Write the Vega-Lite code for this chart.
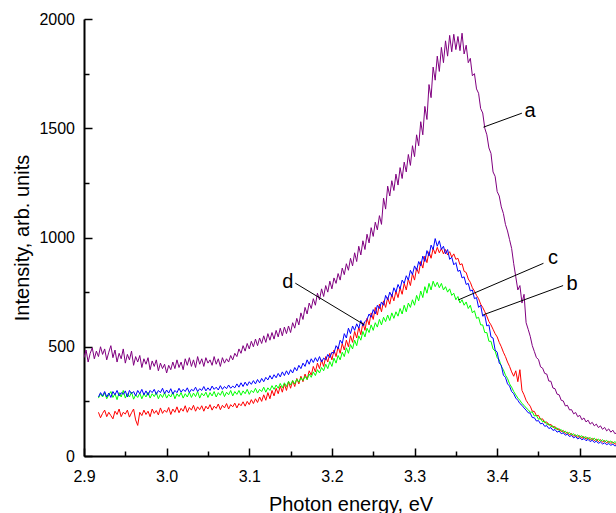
{
  "$schema": "https://vega.github.io/schema/vega-lite/v6.json",
  "width": 533,
  "height": 437,
  "autosize": {"type": "none"},
  "padding": {"left": 84, "top": 19, "right": 0, "bottom": 57},
  "config": {
    "view": {"stroke": null},
    "font": "Liberation Sans",
    "axis": {
      "grid": false,
      "domainColor": "black",
      "domainWidth": 2,
      "tickColor": "black",
      "tickWidth": 1.5,
      "labelColor": "black",
      "labelFont": "Liberation Sans",
      "labelFontSize": 16,
      "titleFont": "Liberation Sans",
      "titleFontSize": 20,
      "titleFontWeight": "normal",
      "titleColor": "black"
    }
  },
  "layer": [
    {
      "data": {
        "values": [
          {"x": 2.9000, "a": 450},
          {"x": 2.9025, "a": 485},
          {"x": 2.9050, "a": 430},
          {"x": 2.9075, "a": 470},
          {"x": 2.9100, "a": 495},
          {"x": 2.9125, "a": 445},
          {"x": 2.9150, "a": 480},
          {"x": 2.9175, "a": 455, "b": 200, "c": 265, "d": 270},
          {"x": 2.9200, "a": 500, "b": 175, "c": 285, "d": 290},
          {"x": 2.9225, "a": 465, "b": 195, "c": 270, "d": 275},
          {"x": 2.9250, "a": 490, "b": 210, "c": 290, "d": 295},
          {"x": 2.9275, "a": 440, "b": 180, "c": 262, "d": 270},
          {"x": 2.9300, "a": 475, "b": 200, "c": 280, "d": 288},
          {"x": 2.9325, "a": 505, "b": 185, "c": 295, "d": 268},
          {"x": 2.9350, "a": 450, "b": 170, "c": 268, "d": 295},
          {"x": 2.9375, "a": 485, "b": 205, "c": 285, "d": 280},
          {"x": 2.9400, "a": 430, "b": 190, "c": 258, "d": 300},
          {"x": 2.9425, "a": 470, "b": 215, "c": 290, "d": 275},
          {"x": 2.9450, "a": 445, "b": 180, "c": 270, "d": 290},
          {"x": 2.9475, "a": 490, "b": 200, "c": 300, "d": 282},
          {"x": 2.9500, "a": 425, "b": 192, "c": 265, "d": 298},
          {"x": 2.9525, "a": 465, "b": 210, "c": 285, "d": 270},
          {"x": 2.9550, "a": 440, "b": 178, "c": 270, "d": 300},
          {"x": 2.9575, "a": 480, "b": 198, "c": 292, "d": 285},
          {"x": 2.9600, "a": 415, "b": 215, "c": 260, "d": 295},
          {"x": 2.9625, "a": 455, "b": 165, "c": 280, "d": 275},
          {"x": 2.9650, "a": 430, "b": 140, "c": 268, "d": 300},
          {"x": 2.9675, "a": 460, "b": 200, "c": 288, "d": 285},
          {"x": 2.9700, "a": 405, "b": 185, "c": 262, "d": 305},
          {"x": 2.9725, "a": 445, "b": 210, "c": 285, "d": 280},
          {"x": 2.9750, "a": 420, "b": 190, "c": 270, "d": 298},
          {"x": 2.9775, "a": 450, "b": 205, "c": 292, "d": 278},
          {"x": 2.9800, "a": 395, "b": 180, "c": 265, "d": 300},
          {"x": 2.9825, "a": 435, "b": 215, "c": 285, "d": 290},
          {"x": 2.9850, "a": 410, "b": 195, "c": 272, "d": 305},
          {"x": 2.9875, "a": 440, "b": 208, "c": 290, "d": 282},
          {"x": 2.9900, "a": 390, "b": 188, "c": 262, "d": 300},
          {"x": 2.9925, "a": 425, "b": 220, "c": 283, "d": 290},
          {"x": 2.9950, "a": 400, "b": 195, "c": 268, "d": 310},
          {"x": 2.9975, "a": 420, "b": 210, "c": 290, "d": 285},
          {"x": 3.0000, "a": 380, "b": 200, "c": 265, "d": 302},
          {"x": 3.0025, "a": 415, "b": 222, "c": 282, "d": 288},
          {"x": 3.0050, "a": 395, "b": 190, "c": 270, "d": 308},
          {"x": 3.0075, "a": 430, "b": 215, "c": 292, "d": 283},
          {"x": 3.0100, "a": 400, "b": 200, "c": 262, "d": 300},
          {"x": 3.0125, "a": 440, "b": 225, "c": 285, "d": 290},
          {"x": 3.0150, "a": 405, "b": 198, "c": 272, "d": 310},
          {"x": 3.0175, "a": 430, "b": 218, "c": 290, "d": 292},
          {"x": 3.0200, "a": 395, "b": 205, "c": 265, "d": 305},
          {"x": 3.0225, "a": 445, "b": 230, "c": 285, "d": 295},
          {"x": 3.0250, "a": 415, "b": 200, "c": 270, "d": 312},
          {"x": 3.0275, "a": 450, "b": 222, "c": 292, "d": 290},
          {"x": 3.0300, "a": 410, "b": 210, "c": 268, "d": 305},
          {"x": 3.0325, "a": 440, "b": 232, "c": 288, "d": 298},
          {"x": 3.0350, "a": 405, "b": 205, "c": 272, "d": 315},
          {"x": 3.0375, "a": 455, "b": 225, "c": 295, "d": 295},
          {"x": 3.0400, "a": 420, "b": 212, "c": 265, "d": 308},
          {"x": 3.0425, "a": 445, "b": 230, "c": 287, "d": 300},
          {"x": 3.0450, "a": 410, "b": 205, "c": 275, "d": 318},
          {"x": 3.0475, "a": 450, "b": 228, "c": 292, "d": 298},
          {"x": 3.0500, "a": 425, "b": 215, "c": 268, "d": 312},
          {"x": 3.0525, "a": 440, "b": 235, "c": 290, "d": 300},
          {"x": 3.0550, "a": 415, "b": 210, "c": 275, "d": 320},
          {"x": 3.0575, "a": 455, "b": 228, "c": 295, "d": 305},
          {"x": 3.0600, "a": 420, "b": 218, "c": 270, "d": 315},
          {"x": 3.0625, "a": 445, "b": 238, "c": 290, "d": 302},
          {"x": 3.0650, "a": 410, "b": 212, "c": 278, "d": 322},
          {"x": 3.0675, "a": 450, "b": 232, "c": 298, "d": 305},
          {"x": 3.0700, "a": 425, "b": 220, "c": 272, "d": 318},
          {"x": 3.0725, "a": 445, "b": 240, "c": 292, "d": 308},
          {"x": 3.0750, "a": 430, "b": 215, "c": 280, "d": 325},
          {"x": 3.0775, "a": 460, "b": 235, "c": 300, "d": 310},
          {"x": 3.0800, "a": 440, "b": 225, "c": 275, "d": 320},
          {"x": 3.0825, "a": 470, "b": 242, "c": 295, "d": 312},
          {"x": 3.0850, "a": 455, "b": 220, "c": 282, "d": 330},
          {"x": 3.0875, "a": 490, "b": 240, "c": 300, "d": 315},
          {"x": 3.0900, "a": 470, "b": 230, "c": 278, "d": 335},
          {"x": 3.0925, "a": 505, "b": 248, "c": 298, "d": 318},
          {"x": 3.0950, "a": 480, "b": 228, "c": 285, "d": 338},
          {"x": 3.0975, "a": 515, "b": 250, "c": 305, "d": 322},
          {"x": 3.1000, "a": 490, "b": 235, "c": 282, "d": 340},
          {"x": 3.1025, "a": 525, "b": 258, "c": 300, "d": 328},
          {"x": 3.1050, "a": 500, "b": 240, "c": 290, "d": 345},
          {"x": 3.1075, "a": 535, "b": 262, "c": 310, "d": 330},
          {"x": 3.1100, "a": 505, "b": 245, "c": 288, "d": 350},
          {"x": 3.1125, "a": 540, "b": 270, "c": 305, "d": 335},
          {"x": 3.1150, "a": 515, "b": 250, "c": 295, "d": 355},
          {"x": 3.1175, "a": 550, "b": 280, "c": 315, "d": 340},
          {"x": 3.1200, "a": 520, "b": 255, "c": 292, "d": 360},
          {"x": 3.1225, "a": 560, "b": 290, "c": 312, "d": 348},
          {"x": 3.1250, "a": 530, "b": 262, "c": 300, "d": 368},
          {"x": 3.1275, "a": 565, "b": 300, "c": 322, "d": 352},
          {"x": 3.1300, "a": 535, "b": 275, "c": 305, "d": 372},
          {"x": 3.1325, "a": 575, "b": 310, "c": 325, "d": 358},
          {"x": 3.1350, "a": 545, "b": 285, "c": 310, "d": 378},
          {"x": 3.1375, "a": 585, "b": 320, "c": 332, "d": 362},
          {"x": 3.1400, "a": 550, "b": 292, "c": 312, "d": 385},
          {"x": 3.1425, "a": 590, "b": 330, "c": 335, "d": 368},
          {"x": 3.1450, "a": 560, "b": 300, "c": 318, "d": 390},
          {"x": 3.1475, "a": 595, "b": 340, "c": 342, "d": 372},
          {"x": 3.1500, "a": 565, "b": 310, "c": 325, "d": 395},
          {"x": 3.1525, "a": 610, "b": 345, "c": 345, "d": 380},
          {"x": 3.1550, "a": 585, "b": 318, "c": 330, "d": 405},
          {"x": 3.1575, "a": 630, "b": 355, "c": 352, "d": 390},
          {"x": 3.1600, "a": 600, "b": 330, "c": 338, "d": 415},
          {"x": 3.1625, "a": 655, "b": 365, "c": 358, "d": 400},
          {"x": 3.1650, "a": 625, "b": 340, "c": 345, "d": 425},
          {"x": 3.1675, "a": 680, "b": 375, "c": 365, "d": 410},
          {"x": 3.1700, "a": 650, "b": 350, "c": 350, "d": 440},
          {"x": 3.1725, "a": 700, "b": 390, "c": 375, "d": 420},
          {"x": 3.1750, "a": 675, "b": 370, "c": 360, "d": 445},
          {"x": 3.1775, "a": 720, "b": 410, "c": 385, "d": 428},
          {"x": 3.1800, "a": 690, "b": 385, "c": 368, "d": 450},
          {"x": 3.1825, "a": 745, "b": 425, "c": 395, "d": 432},
          {"x": 3.1850, "a": 715, "b": 400, "c": 380, "d": 455},
          {"x": 3.1875, "a": 765, "b": 440, "c": 405, "d": 430},
          {"x": 3.1900, "a": 730, "b": 410, "c": 390, "d": 448},
          {"x": 3.1925, "a": 780, "b": 455, "c": 420, "d": 440},
          {"x": 3.1950, "a": 750, "b": 430, "c": 400, "d": 465},
          {"x": 3.1975, "a": 800, "b": 470, "c": 432, "d": 450},
          {"x": 3.2000, "a": 765, "b": 440, "c": 410, "d": 475},
          {"x": 3.2025, "a": 815, "b": 485, "c": 448, "d": 470},
          {"x": 3.2050, "a": 790, "b": 455, "c": 425, "d": 505},
          {"x": 3.2075, "a": 835, "b": 500, "c": 460, "d": 490},
          {"x": 3.2100, "a": 805, "b": 470, "c": 440, "d": 530},
          {"x": 3.2125, "a": 860, "b": 515, "c": 475, "d": 515},
          {"x": 3.2150, "a": 830, "b": 485, "c": 455, "d": 560},
          {"x": 3.2175, "a": 880, "b": 530, "c": 495, "d": 540},
          {"x": 3.2200, "a": 850, "b": 500, "c": 470, "d": 585},
          {"x": 3.2225, "a": 905, "b": 550, "c": 510, "d": 560},
          {"x": 3.2250, "a": 870, "b": 520, "c": 490, "d": 595},
          {"x": 3.2275, "a": 930, "b": 570, "c": 530, "d": 575},
          {"x": 3.2300, "a": 890, "b": 540, "c": 505, "d": 605},
          {"x": 3.2325, "a": 960, "b": 590, "c": 550, "d": 585},
          {"x": 3.2350, "a": 920, "b": 555, "c": 530, "d": 620},
          {"x": 3.2375, "a": 985, "b": 610, "c": 570, "d": 595},
          {"x": 3.2400, "a": 945, "b": 575, "c": 545, "d": 615},
          {"x": 3.2425, "a": 1015, "b": 630, "c": 585, "d": 625},
          {"x": 3.2450, "a": 975, "b": 600, "c": 565, "d": 650},
          {"x": 3.2475, "a": 1045, "b": 655, "c": 600, "d": 635},
          {"x": 3.2500, "a": 1005, "b": 625, "c": 575, "d": 670},
          {"x": 3.2525, "a": 1070, "b": 680, "c": 610, "d": 650},
          {"x": 3.2550, "a": 1035, "b": 645, "c": 590, "d": 690},
          {"x": 3.2575, "a": 1100, "b": 695, "c": 625, "d": 675},
          {"x": 3.2600, "a": 1060, "b": 660, "c": 600, "d": 705},
          {"x": 3.2625, "a": 1180, "b": 710, "c": 635, "d": 690},
          {"x": 3.2650, "a": 1130, "b": 680, "c": 615, "d": 735},
          {"x": 3.2675, "a": 1235, "b": 725, "c": 645, "d": 715},
          {"x": 3.2700, "a": 1190, "b": 695, "c": 620, "d": 750},
          {"x": 3.2725, "a": 1260, "b": 740, "c": 655, "d": 730},
          {"x": 3.2750, "a": 1215, "b": 710, "c": 630, "d": 770},
          {"x": 3.2775, "a": 1290, "b": 755, "c": 660, "d": 750},
          {"x": 3.2800, "a": 1240, "b": 725, "c": 640, "d": 785},
          {"x": 3.2825, "a": 1320, "b": 770, "c": 675, "d": 765},
          {"x": 3.2850, "a": 1270, "b": 740, "c": 650, "d": 805},
          {"x": 3.2875, "a": 1345, "b": 790, "c": 690, "d": 790},
          {"x": 3.2900, "a": 1300, "b": 760, "c": 660, "d": 825},
          {"x": 3.2925, "a": 1380, "b": 810, "c": 700, "d": 805},
          {"x": 3.2950, "a": 1330, "b": 780, "c": 680, "d": 850},
          {"x": 3.2975, "a": 1420, "b": 835, "c": 715, "d": 830},
          {"x": 3.3000, "a": 1370, "b": 805, "c": 690, "d": 870},
          {"x": 3.3025, "a": 1470, "b": 860, "c": 735, "d": 850},
          {"x": 3.3050, "a": 1420, "b": 835, "c": 710, "d": 890},
          {"x": 3.3075, "a": 1530, "b": 890, "c": 755, "d": 870},
          {"x": 3.3100, "a": 1470, "b": 860, "c": 725, "d": 915},
          {"x": 3.3125, "a": 1600, "b": 915, "c": 775, "d": 890},
          {"x": 3.3150, "a": 1540, "b": 885, "c": 745, "d": 940},
          {"x": 3.3175, "a": 1700, "b": 935, "c": 790, "d": 915},
          {"x": 3.3200, "a": 1640, "b": 905, "c": 760, "d": 965},
          {"x": 3.3225, "a": 1780, "b": 950, "c": 800, "d": 945},
          {"x": 3.3250, "a": 1720, "b": 925, "c": 775, "d": 995},
          {"x": 3.3275, "a": 1830, "b": 955, "c": 795, "d": 960},
          {"x": 3.3300, "a": 1760, "b": 930, "c": 770, "d": 985},
          {"x": 3.3325, "a": 1870, "b": 950, "c": 790, "d": 945},
          {"x": 3.3350, "a": 1800, "b": 925, "c": 760, "d": 960},
          {"x": 3.3375, "a": 1900, "b": 945, "c": 775, "d": 925},
          {"x": 3.3400, "a": 1830, "b": 920, "c": 750, "d": 945},
          {"x": 3.3425, "a": 1925, "b": 935, "c": 765, "d": 900},
          {"x": 3.3450, "a": 1850, "b": 910, "c": 735, "d": 910},
          {"x": 3.3475, "a": 1930, "b": 925, "c": 745, "d": 875},
          {"x": 3.3500, "a": 1860, "b": 900, "c": 715, "d": 885},
          {"x": 3.3525, "a": 1920, "b": 905, "c": 730, "d": 845},
          {"x": 3.3550, "a": 1855, "b": 875, "c": 700, "d": 850},
          {"x": 3.3575, "a": 1935, "b": 880, "c": 715, "d": 815},
          {"x": 3.3600, "a": 1840, "b": 845, "c": 690, "d": 820},
          {"x": 3.3625, "a": 1880, "b": 840, "c": 705, "d": 785},
          {"x": 3.3650, "a": 1800, "b": 810, "c": 675, "d": 790},
          {"x": 3.3675, "a": 1820, "b": 795, "c": 690, "d": 755},
          {"x": 3.3700, "a": 1740, "b": 770, "c": 655, "d": 760},
          {"x": 3.3725, "a": 1750, "b": 755, "c": 665, "d": 720},
          {"x": 3.3750, "a": 1680, "b": 735, "c": 630, "d": 725},
          {"x": 3.3775, "a": 1660, "b": 720, "c": 635, "d": 680},
          {"x": 3.3800, "a": 1590, "b": 695, "c": 600, "d": 690},
          {"x": 3.3825, "a": 1570, "b": 680, "c": 600, "d": 640},
          {"x": 3.3850, "a": 1500, "b": 660, "c": 565, "d": 645},
          {"x": 3.3875, "a": 1470, "b": 640, "c": 565, "d": 595},
          {"x": 3.3900, "a": 1410, "b": 615, "c": 525, "d": 600},
          {"x": 3.3925, "a": 1385, "b": 600, "c": 525, "d": 545},
          {"x": 3.3950, "a": 1300, "b": 580, "c": 490, "d": 540},
          {"x": 3.3975, "a": 1280, "b": 560, "c": 480, "d": 485},
          {"x": 3.4000, "a": 1210, "b": 545, "c": 450, "d": 475},
          {"x": 3.4025, "a": 1190, "b": 520, "c": 440, "d": 425},
          {"x": 3.4050, "a": 1140, "b": 500, "c": 410, "d": 415},
          {"x": 3.4075, "a": 1110, "b": 475, "c": 395, "d": 370},
          {"x": 3.4100, "a": 1060, "b": 455, "c": 370, "d": 360},
          {"x": 3.4125, "a": 1030, "b": 430, "c": 355, "d": 330},
          {"x": 3.4150, "a": 990, "b": 410, "c": 330, "d": 320},
          {"x": 3.4175, "a": 950, "b": 385, "c": 315, "d": 295},
          {"x": 3.4200, "a": 880, "b": 365, "c": 295, "d": 285},
          {"x": 3.4225, "a": 820, "b": 390, "c": 280, "d": 265},
          {"x": 3.4250, "a": 760, "b": 340, "c": 265, "d": 255},
          {"x": 3.4275, "a": 780, "b": 395, "c": 255, "d": 240},
          {"x": 3.4300, "a": 700, "b": 300, "c": 240, "d": 232},
          {"x": 3.4325, "a": 740, "b": 280, "c": 232, "d": 220},
          {"x": 3.4350, "a": 610, "b": 255, "c": 220, "d": 210},
          {"x": 3.4375, "a": 580, "b": 240, "c": 212, "d": 198},
          {"x": 3.4400, "a": 548, "b": 228, "c": 200, "d": 196},
          {"x": 3.4425, "a": 505, "b": 205, "c": 202, "d": 176},
          {"x": 3.4450, "a": 478, "b": 204, "c": 183, "d": 175},
          {"x": 3.4475, "a": 450, "b": 184, "c": 186, "d": 160},
          {"x": 3.4500, "a": 442, "b": 186, "c": 168, "d": 162},
          {"x": 3.4525, "a": 408, "b": 168, "c": 172, "d": 147},
          {"x": 3.4550, "a": 402, "b": 170, "c": 156, "d": 150},
          {"x": 3.4575, "a": 378, "b": 152, "c": 160, "d": 136},
          {"x": 3.4600, "a": 375, "b": 156, "c": 144, "d": 139},
          {"x": 3.4625, "a": 343, "b": 141, "c": 148, "d": 126},
          {"x": 3.4650, "a": 342, "b": 145, "c": 134, "d": 130},
          {"x": 3.4675, "a": 311, "b": 130, "c": 138, "d": 117},
          {"x": 3.4700, "a": 308, "b": 135, "c": 124, "d": 121},
          {"x": 3.4725, "a": 283, "b": 120, "c": 129, "d": 109},
          {"x": 3.4750, "a": 280, "b": 125, "c": 116, "d": 114},
          {"x": 3.4775, "a": 255, "b": 111, "c": 121, "d": 102},
          {"x": 3.4800, "a": 252, "b": 117, "c": 108, "d": 106},
          {"x": 3.4825, "a": 229, "b": 103, "c": 114, "d": 95},
          {"x": 3.4850, "a": 232, "b": 109, "c": 102, "d": 100},
          {"x": 3.4875, "a": 211, "b": 96, "c": 108, "d": 89},
          {"x": 3.4900, "a": 212, "b": 103, "c": 96, "d": 94},
          {"x": 3.4925, "a": 193, "b": 90, "c": 102, "d": 83},
          {"x": 3.4950, "a": 199, "b": 97, "c": 90, "d": 89},
          {"x": 3.4975, "a": 180, "b": 85, "c": 97, "d": 78},
          {"x": 3.5000, "a": 186, "b": 93, "c": 86, "d": 84},
          {"x": 3.5025, "a": 166, "b": 81, "c": 93, "d": 74},
          {"x": 3.5050, "a": 174, "b": 89, "c": 82, "d": 80},
          {"x": 3.5075, "a": 156, "b": 77, "c": 89, "d": 70},
          {"x": 3.5100, "a": 164, "b": 85, "c": 78, "d": 76},
          {"x": 3.5125, "a": 146, "b": 73, "c": 85, "d": 66},
          {"x": 3.5150, "a": 154, "b": 81, "c": 74, "d": 72},
          {"x": 3.5175, "a": 138, "b": 70, "c": 82, "d": 62},
          {"x": 3.5200, "a": 146, "b": 78, "c": 70, "d": 68},
          {"x": 3.5225, "a": 130, "b": 66, "c": 78, "d": 58},
          {"x": 3.5250, "a": 138, "b": 75, "c": 67, "d": 64},
          {"x": 3.5275, "a": 122, "b": 63, "c": 75, "d": 55},
          {"x": 3.5300, "a": 131, "b": 71, "c": 64, "d": 60},
          {"x": 3.5325, "a": 115, "b": 60, "c": 72, "d": 52},
          {"x": 3.5350, "a": 124, "b": 68, "c": 61, "d": 57},
          {"x": 3.5375, "a": 109, "b": 57, "c": 69, "d": 49},
          {"x": 3.5400, "a": 118, "b": 65, "c": 58, "d": 54},
          {"x": 3.5425, "a": 102, "b": 54, "c": 66, "d": 46},
          {"x": 3.5450, "a": 108, "b": 58, "c": 57, "d": 50}
        ]
      },
      "transform": [
        {"fold": ["a", "b", "c", "d"], "as": ["s", "v"]},
        {"filter": "isValid(datum.v)"}
      ],
      "mark": {"type": "line", "strokeWidth": 1, "clip": true},
      "encoding": {
        "x": {
          "field": "x",
          "type": "quantitative",
          "scale": {"domain": [2.9, 3.545], "nice": false, "zero": false},
          "axis": {
            "title": "Photon energy, eV",
            "values": [2.9, 2.95, 3.0, 3.05, 3.1, 3.15, 3.2, 3.25, 3.3, 3.35, 3.4, 3.45, 3.5],
            "labelExpr": "abs(datum.value*10 - round(datum.value*10)) < 0.01 ? format(datum.value, '.1f') : ''",
            "tickSize": {"condition": {"test": "abs(datum.value*10 - round(datum.value*10)) > 0.01", "value": -5}, "value": -8},
            "labelPadding": 20,
            "labelFlush": false,
            "labelOverlap": false,
            "titleBaseline": "alphabetic",
            "titleY": 54
          }
        },
        "y": {
          "field": "v",
          "type": "quantitative",
          "scale": {"domain": [0, 2000], "nice": false},
          "axis": {
            "title": "Intensity, arb. units",
            "values": [0, 250, 500, 750, 1000, 1250, 1500, 1750, 2000],
            "labelExpr": "datum.value % 500 == 0 ? format(datum.value, 'd') : ''",
            "tickSize": {"condition": {"test": "datum.value % 500 != 0", "value": -5}, "value": -8},
            "labelPadding": 17.5,
            "labelFlush": false,
            "labelOverlap": false,
            "titleBaseline": "alphabetic",
            "titleX": -56
          }
        },
        "color": {
          "field": "s",
          "type": "nominal",
          "scale": {"domain": ["a", "b", "c", "d"], "range": ["#800080", "#ff0000", "#00ff00", "#0000ff"]},
          "legend": null
        }
      }
    },
    {
      "data": {
        "values": [
          {"x": 3.3834, "y": 1505, "x2": 3.4299, "y2": 1569},
          {"x": 3.3528, "y": 714, "x2": 3.456, "y2": 882},
          {"x": 3.3831, "y": 646, "x2": 3.4798, "y2": 780},
          {"x": 3.1557, "y": 791, "x2": 3.2395, "y2": 600}
        ]
      },
      "mark": {"type": "rule", "color": "black", "strokeWidth": 1},
      "encoding": {
        "x": {"field": "x", "type": "quantitative", "scale": {"domain": [2.9, 3.545], "nice": false, "zero": false}},
        "y": {"field": "y", "type": "quantitative", "scale": {"domain": [0, 2000], "nice": false}},
        "x2": {"field": "x2"},
        "y2": {"field": "y2"}
      }
    },
    {
      "data": {
        "values": [
          {"x": 3.4399, "y": 1553, "t": "a"},
          {"x": 3.4677, "y": 877, "t": "c"},
          {"x": 3.4907, "y": 762, "t": "b"},
          {"x": 3.1467, "y": 769, "t": "d"}
        ]
      },
      "mark": {"type": "text", "fontSize": 20, "font": "Liberation Sans", "align": "center", "baseline": "alphabetic", "color": "black"},
      "encoding": {
        "x": {"field": "x", "type": "quantitative", "scale": {"domain": [2.9, 3.545], "nice": false, "zero": false}},
        "y": {"field": "y", "type": "quantitative", "scale": {"domain": [0, 2000], "nice": false}},
        "text": {"field": "t"}
      }
    }
  ]
}
